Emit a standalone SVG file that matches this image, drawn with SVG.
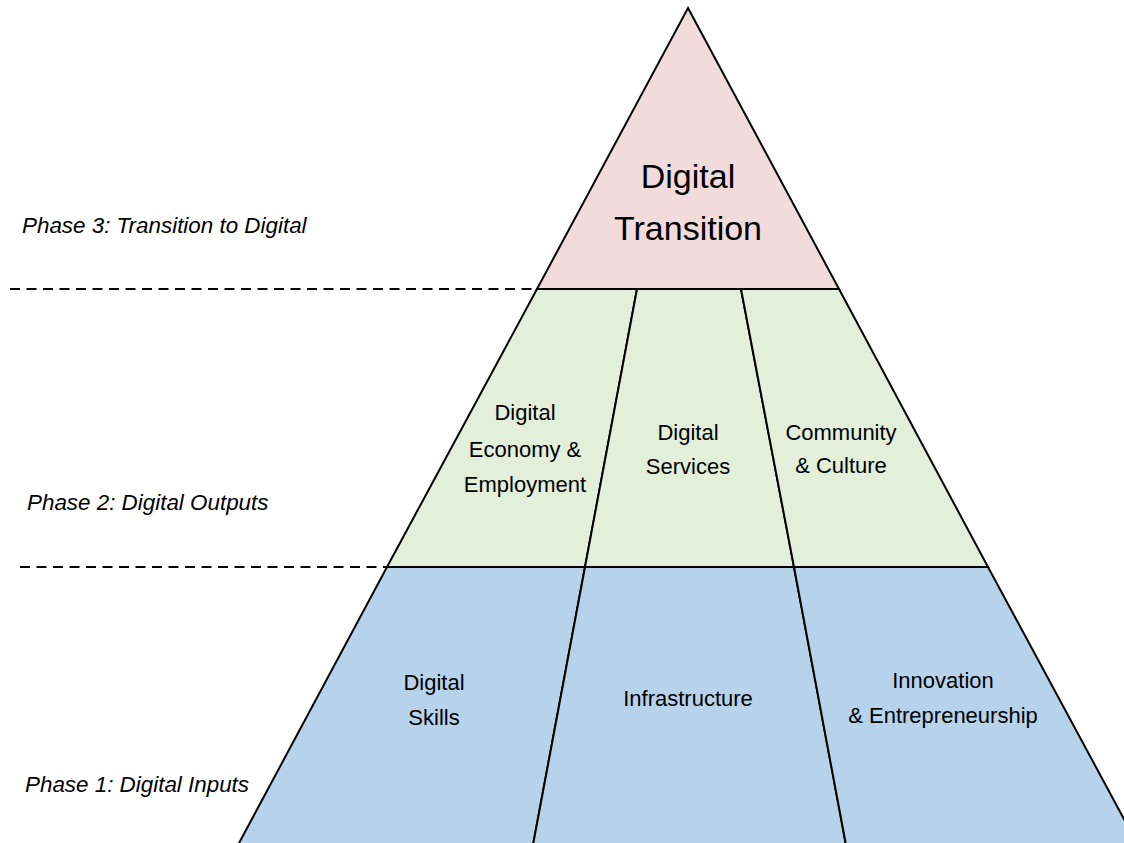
<svg xmlns="http://www.w3.org/2000/svg" width="1124" height="843" viewBox="0 0 1124 843">
<style>
.seg{stroke:#000;stroke-width:2;stroke-linejoin:miter}
.pink{fill:#F2DCDB}
.green{fill:#E2EFDA}
.blue{fill:#B7D3EC}
.lbl{font-family:"Liberation Sans",Arial,sans-serif;font-size:22px;fill:#000;text-anchor:middle}
.big{font-family:"Liberation Sans",Arial,sans-serif;font-size:34px;fill:#000;text-anchor:middle}
.phase{font-family:"Liberation Sans",Arial,sans-serif;font-size:22.4px;font-style:italic;fill:#000}
.dash{stroke:#000;stroke-width:1.8;stroke-dasharray:10 6.5;fill:none}
</style>
<rect width="1124" height="843" fill="#fff"/>
<g id="connectors">
<line class="dash" x1="10" y1="289" x2="537" y2="289"/>
<line class="dash" x1="20" y1="567" x2="387" y2="567"/>
</g>
<g id="digital-transition">
<polygon class="seg pink" points="688,8 839,289 537,289"/>
<text class="big" x="688" y="188">Digital</text>
<text class="big" x="688" y="240">Transition</text>
</g>
<g id="digital-economy">
<polygon class="seg green" points="537,289 637,289 585,567 387,567"/>
<text class="lbl" x="525" y="420">Digital</text>
<text class="lbl" x="525" y="457">Economy &amp;</text>
<text class="lbl" x="525" y="492">Employment</text>
</g>
<g id="digital-services">
<polygon class="seg green" points="637,289 741,289 794,567 585,567"/>
<text class="lbl" x="688" y="440">Digital</text>
<text class="lbl" x="688" y="474">Services</text>
</g>
<g id="community-culture">
<polygon class="seg green" points="741,289 839,289 988,567 794,567"/>
<text class="lbl" x="841" y="440">Community</text>
<text class="lbl" x="841" y="473">&amp; Culture</text>
</g>
<g id="digital-skills">
<polygon class="seg blue" points="387,567 585,567 533,845 238,845"/>
<text class="lbl" x="434" y="690">Digital</text>
<text class="lbl" x="434" y="725">Skills</text>
</g>
<g id="infrastructure">
<polygon class="seg blue" points="585,567 794,567 846,845 533,845"/>
<text class="lbl" x="688" y="706">Infrastructure</text>
</g>
<g id="innovation">
<polygon class="seg blue" points="794,567 988,567 1138,845 846,845"/>
<text class="lbl" x="943" y="688">Innovation</text>
<text class="lbl" x="943" y="723">&amp; Entrepreneurship</text>
</g>
<g id="phase-labels">
<text class="phase" x="22" y="233">Phase 3: Transition to Digital</text>
<text class="phase" x="27" y="510">Phase 2: Digital Outputs</text>
<text class="phase" x="25" y="792">Phase 1: Digital Inputs</text>
</g>
</svg>
